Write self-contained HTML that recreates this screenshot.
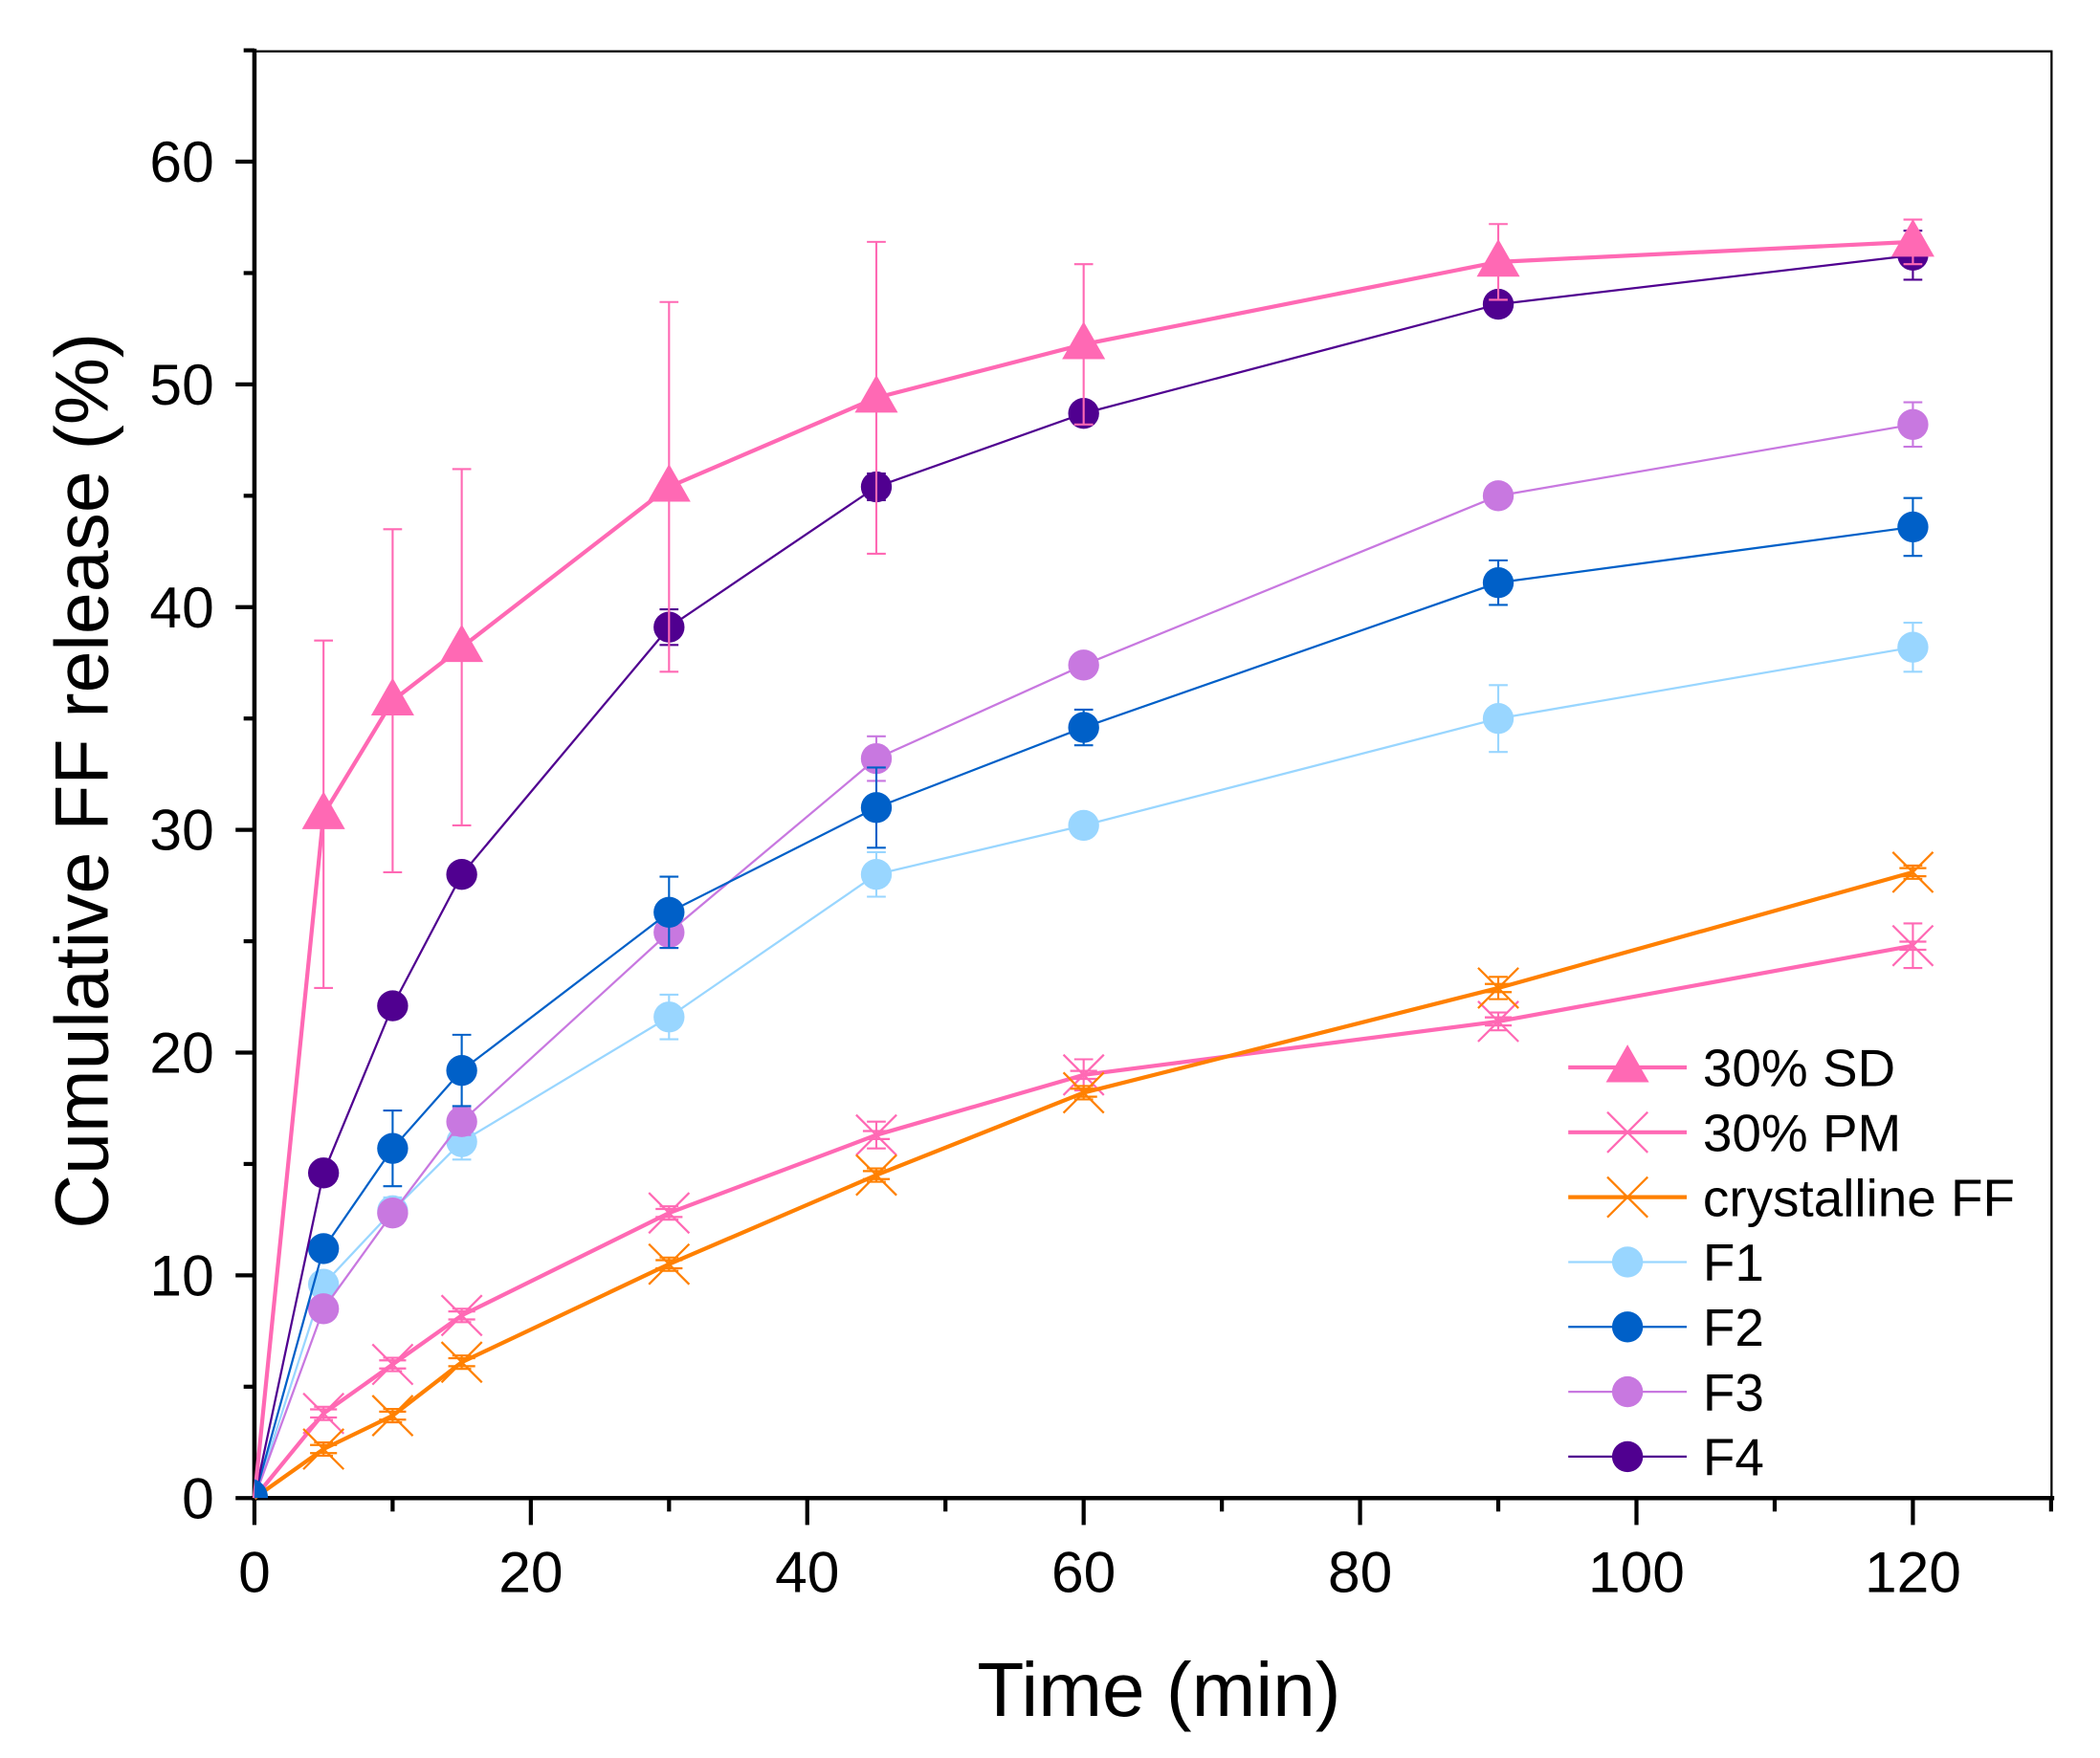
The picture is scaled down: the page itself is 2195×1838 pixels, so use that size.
<!DOCTYPE html>
<html><head><meta charset="utf-8"><style>
html,body{margin:0;padding:0;background:#fff;}
svg{display:block;}
text{font-family:"Liberation Sans",Arial,sans-serif;fill:#000;}
</style></head><body>
<svg id="s" width="2195" height="1838" viewBox="0 0 1560 1306" xmlns="http://www.w3.org/2000/svg"></svg>
<script>
const X0=189,XS=(1421-189)/120,Y0=1113,YS=(1113-120)/60;
const px=t=>X0+t*XS, py=v=>Y0-v*YS;
let h='';
h+=`<rect x="${X0}" y="38" width="${1524-X0}" height="${Y0-38}" fill="none" stroke="#000" stroke-width="1.6"/>`;
h+=`<line x1="${X0}" y1="36" x2="${X0}" y2="${Y0+2}" stroke="#000" stroke-width="3.2"/>`;
h+=`<line x1="${X0-2}" y1="${Y0}" x2="1526" y2="${Y0}" stroke="#000" stroke-width="3.2"/>`;
for(let v=0;v<=65;v+=5){const y=py(v);const maj=v%10==0;
 h+=`<line x1="${X0-(maj?14:8)}" y1="${y}" x2="${X0}" y2="${y}" stroke="#000" stroke-width="3"/>`;
 if(maj)h+=`<text x="${X0-30}" y="${y+15}" font-size="43" text-anchor="end">${v}</text>`;}
for(let t=0;t<=130;t+=10){const x=px(t);const maj=t%20==0;
 h+=`<line x1="${x}" y1="${Y0}" x2="${x}" y2="${Y0+(maj?20:10)}" stroke="#000" stroke-width="3"/>`;
 if(maj)h+=`<text x="${x}" y="${Y0+70}" font-size="43" text-anchor="middle">${t}</text>`;}
h+=`<text x="861" y="1275" font-size="57" text-anchor="middle">Time (min)</text>`;
h+=`<text transform="translate(80,580) rotate(-90)" font-size="56" text-anchor="middle">Cumulative FF release (%)</text>`;
const T=[0,5,10,15,30,45,60,90,120];
const S=[
{c:'#FF69B4',w:3,m:'x',d:[0,3.8,6,8.2,12.8,16.3,19,21.4,24.8],e:[0,0.3,0.3,0.3,0.3,0.6,0.7,0.4,1]},
{c:'#FF8000',w:3,m:'x',d:[0,2.2,3.7,6.1,10.5,14.5,18.2,22.9,28.1],e:[0,0.3,0.3,0.3,0.3,0.3,0.3,0.5,0.3]},
{c:'#99D6FF',w:1.6,m:'o',d:[0,9.6,12.9,16,21.6,28,30.2,35,38.2],e:[0,0.5,0.6,0.8,1,1,0.5,1.5,1.1]},
{c:'#C878E0',w:1.6,m:'o',d:[0,8.5,12.8,16.9,25.4,33.2,37.4,45,48.2],e:[0,0.5,0.5,0.6,0.7,1,0.5,0.5,1]},
{c:'#0060C8',w:1.6,m:'o',d:[0,11.2,15.7,19.2,26.3,31,34.6,41.1,43.6],e:[0,0.5,1.7,1.6,1.6,1.8,0.8,1,1.3]},
{c:'#500090',w:1.6,m:'o',d:[0,14.6,22.1,28,39.1,45.4,48.7,53.6,55.8],e:[0,0.3,0.3,0.3,0.8,0.6,0.4,0.3,1.1]},
{c:'#FF69B4',w:3,m:'t',d:[0,30.7,35.8,38.2,45.4,49.4,51.8,55.5,56.4],e:[0,7.8,7.7,8,8.3,7,3.6,1.7,1]},
];
function mk(m,x,y,c,leg){
 if(m=='o')return `<circle cx="${x}" cy="${y}" r="11.5" fill="${c}"/>`;
 if(m=='t')return `<polygon points="${x},${y-17} ${x-16},${y+11} ${x+16},${y+11}" fill="${c}"/>`;
 return `<path d="M${x-15},${y-15}L${x+15},${y+15}M${x-15},${y+15}L${x+15},${y-15}`+(leg?'':`M${x-10},${y-3}L${x+10},${y-3}M${x-10},${y+3}L${x+10},${y+3}`)+`" stroke="${c}" stroke-width="1.6" fill="none"/>`;
}
S.forEach(s=>{
 let p=T.map((t,i)=>`${px(t)},${py(s.d[i])}`).join(' ');
 h+=`<polyline points="${p}" fill="none" stroke="${s.c}" stroke-width="${s.w}"/>`;
 T.forEach((t,i)=>{if(!t)return;const x=px(t),a=py(s.d[i]+s.e[i]),b=py(s.d[i]-s.e[i]);
  h+=`<path d="M${x},${a}L${x},${b}M${x-7},${a}L${x+7},${a}M${x-7},${b}L${x+7},${b}" stroke="${s.c}" stroke-width="1.5"/>`;});
 T.forEach((t,i)=>{if(t)h+=mk(s.m,px(t),py(s.d[i]),s.c);});
});
h+=`<path d="M${X0},${Y0}L${X0},${Y0-14}A14,14 0 0 1 ${X0+10},${Y0}Z" fill="#0060C8"/>`;
const L=[['#FF69B4',3,'t','30% SD'],['#FF69B4',3,'x','30% PM'],['#FF8000',3,'x','crystalline FF'],['#99D6FF',1.6,'o','F1'],['#0060C8',1.6,'o','F2'],['#C878E0',1.6,'o','F3'],['#500090',1.6,'o','F4']];
L.forEach((l,i)=>{const y=793+i*48.2;
 h+=`<line x1="1165" y1="${y}" x2="1253" y2="${y}" stroke="${l[0]}" stroke-width="${l[1]}"/>`;
 h+=mk(l[2],1209,y,l[0],true);
 h+=`<text x="1265" y="${y+14}" font-size="39">${l[3]}</text>`;});
document.getElementById('s').innerHTML=h;
</script>
</body></html>
